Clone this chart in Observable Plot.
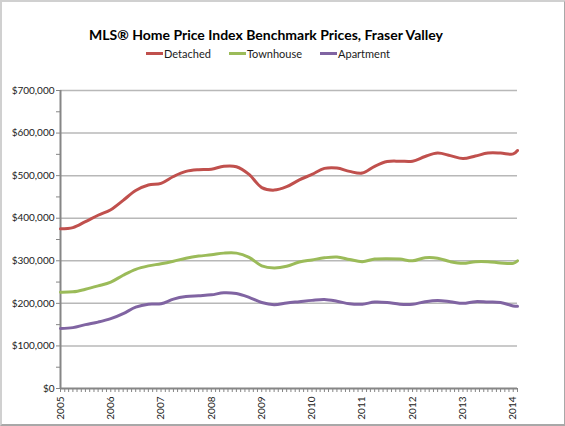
<!DOCTYPE html>
<html><head><meta charset="utf-8">
<script src="https://cdn.jsdelivr.net/npm/d3@7"></script>
<script src="https://cdn.jsdelivr.net/npm/@observablehq/plot@0.6"></script>
<style>
html,body{margin:0;padding:0;background:#fff;}
#wrap{position:relative;width:565px;height:426px;overflow:hidden;font-family:Lato,"Open Sans",sans-serif;background:#fff;}
#frame{position:absolute;left:0;top:0;width:562px;height:422px;border:2px solid #d0d0d0;border-right-color:#a8a8a8;border-bottom-color:#a8a8a8;pointer-events:none;}
#title{position:absolute;left:0;width:532px;top:26px;text-align:center;font-weight:bold;font-size:14px;color:#000;}
#legend{position:absolute;left:0;width:536px;top:47px;display:flex;justify-content:center;gap:18px;font-size:11px;color:#1a1a1a;}
#legend span.item{display:flex;align-items:center;}
#legend span.sw{display:inline-block;width:17px;height:3px;margin-right:1px;}
#chart{position:absolute;left:0;top:0;}
</style></head>
<body>
<div id="wrap">
  <div id="chart"></div>
  <div id="title">MLS® Home Price Index Benchmark Prices, Fraser Valley</div>
  <div id="legend"></div>
  <div id="frame"></div>
</div>
<script>
const dates = ["2005-01","2005-04","2005-07","2005-10","2006-01","2006-04","2006-07","2006-10",
"2007-01","2007-04","2007-07","2007-10","2008-01","2008-04","2008-07","2008-10",
"2009-01","2009-04","2009-07","2009-10","2010-01","2010-04","2010-07","2010-10",
"2011-01","2011-04","2011-07","2011-10","2012-01","2012-04","2012-07","2012-10",
"2013-01","2013-04","2013-07","2013-10","2014-01","2014-02"];
const detached = [375,378,392,407,420,442,465,478,482,498,510,514,515,522,521,503,
472,466,474,490,503,517,518,510,506,522,533,534,534,545,553,547,540,546,553,553,551,559];
const townhouse = [226,227,233,241,250,266,280,288,293,299,306,311,314,318,318,308,
288,283,287,297,302,307,309,303,298,304,305,304,300,307,306,298,294,298,298,295,294,300];
const apartment = [141,143,150,156,164,176,191,198,199,210,216,218,220,225,223,214,
202,197,201,204,207,209,205,199,198,203,202,198,198,204,207,204,200,204,203,202,194,193];
const seriesNames = ["Detached","Townhouse","Apartment"];
const seriesColors = ["#C0504D","#9BBB59","#8064A2"];
const yTicks = [0,100000,200000,300000,400000,500000,600000,700000];
const xTickYears = ["2005","2006","2007","2008","2009","2010","2011","2012","2013","2014"];

const parse = d3.utcParse("%Y-%m");
const rows = [];
[detached, townhouse, apartment].forEach((vals, si) => {
  vals.forEach((v, i) => rows.push({date: parse(dates[i]), value: v * 1000, series: seriesNames[si]}));
});
const xStart = parse(dates[0]), xEnd = parse(dates[dates.length - 1]);
const yearDates = xTickYears.map(y => d3.utcParse("%Y")(y));
const monthDates = d3.utcMonth.range(xStart, d3.utcMonth.offset(xEnd, 1));
const minorY = d3.range(0, 700001, 50000);

const chart = Plot.plot({
  width: 565, height: 426,
  marginTop: 90, marginBottom: 38, marginLeft: 60, marginRight: 48,
  style: {fontFamily: "Lato, 'Open Sans', sans-serif", fontSize: "10px", color: "#222", background: "transparent"},
  x: {type: "utc", domain: [xStart, xEnd], label: null},
  y: {domain: [0, 700000], label: null},
  color: {domain: seriesNames, range: seriesColors},
  marks: [
    Plot.ruleY(yTicks.slice(1), {stroke: "#b8b8b8", strokeWidth: 1.5}),
    Plot.axisY({ticks: minorY, tickSize: 4, text: null, stroke: "#868686", label: null}),
    Plot.axisY({ticks: yTicks, tickSize: 0, tickPadding: 6, tickFormat: d => "$" + d3.format(",")(d), fill: "#222", label: null}),
    Plot.axisX({ticks: monthDates, tickSize: 4, text: null, stroke: "#868686", label: null}),
    Plot.axisX({ticks: yearDates, tickSize: 0, tickPadding: 8, tickRotate: -90, tickFormat: d3.utcFormat("%Y"), fill: "#222", label: null}),
    Plot.ruleX([xStart], {stroke: "#868686", strokeWidth: 2}),
    Plot.ruleY([0], {stroke: "#868686", strokeWidth: 2}),
    Plot.line(rows, {x: "date", y: "value", z: "series", stroke: "series", strokeWidth: 3, curve: "catmull-rom"})
  ]
});
document.getElementById("chart").appendChild(chart);

const legend = document.getElementById("legend");
seriesNames.forEach((n, i) => {
  const it = document.createElement("span"); it.className = "item";
  const sw = document.createElement("span"); sw.className = "sw"; sw.style.background = seriesColors[i];
  it.appendChild(sw); it.appendChild(document.createTextNode(n));
  legend.appendChild(it);
});
</script>
</body></html>
